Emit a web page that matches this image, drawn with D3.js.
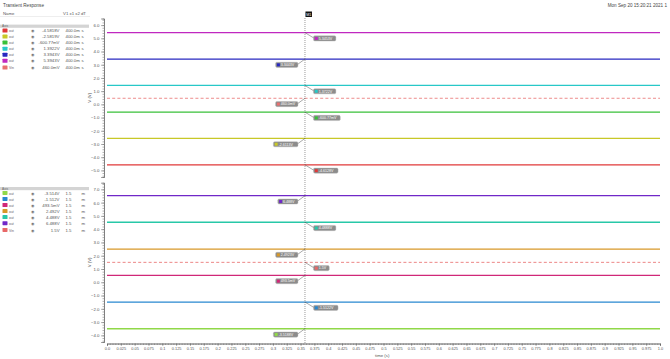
<!DOCTYPE html>
<html><head><meta charset="utf-8">
<script src="https://cdn.jsdelivr.net/npm/d3@7"></script>
<style>
body{margin:0;background:#fff;}
svg{display:block;font-family:"Liberation Sans",Arial,sans-serif;}
</style></head><body>
<svg id="c" width="670" height="359"></svg>
<script>
// ---------- data ----------
const xTicks = d3.range(0, 41).map(i => +(i * 0.025).toFixed(3));
const cursorTime = 0.358;

const topNames   = ["out","out","out","out","out","out","Vin"];
const topValues  = [-4.58, -2.58, -0.59, 1.43, 3.43, 5.43, 0.46];
const topColors  = ["#e03838","#c8c828","#38c038","#28c8c8","#2828c0","#c028c0","#e87070"];
const topDashed  = [false,false,false,false,false,false,true];
const topLegendVal = ["-4.5818V","-2.5819V","-600.77mV","1.3922V","3.3943V","5.3943V","460.0mV"];
const topLegendT   = ["400.0m","400.0m","400.0m","400.0m","400.0m","400.0m","400.0m"];
const topMarkText  = ["-4.6128V","-2.6113V","-600.77mV","1.3722V","3.3443V","5.3453V","460.0mV"];
const topMarkSide  = ["R","L","R","R","L","R","L"];
const topTicks = [-5,-4,-3,-2,-1,0,1,2,3,4,5,6];

const botNames   = ["out","out","out","out","out","out","Vin"];
const botValues  = [-3.5, -1.49, 0.52, 2.5, 4.52, 6.52, 1.5];
const botColors  = ["#90d848","#2888d0","#d02878","#d89828","#28c8a8","#7028c8","#e86868"];
const botDashed  = [false,false,false,false,false,false,true];
const botLegendVal = ["-3.514V","-1.512V","493.5mV","2.492V","4.488V","6.488V","1.5V"];
const botLegendT   = ["1.5","1.5","1.5","1.5","1.5","1.5","1.5"];
const botMarkText  = ["-3.5188V","-1.5122V","493.5mV","2.4923V","4.4888V","6.488V","1.5V"];
const botMarkSide  = ["L","R","L","L","R","L","R"];
const botTicks = [-4,-3,-2,-1,0,1,2,3,4,5,6,7];

// ---------- layout ----------
const svg = d3.select("#c");
const FS = 4.3;
const x = d3.scaleLinear().domain([0,1]).range([107,660]);
const yTop = d3.scaleLinear().domain([-5.5,6.5]).range([177,18.5]);
const yBot = d3.scaleLinear().domain([-4.5,7.5]).range([342,182.7]);
const axisX = 104;

// header texts
svg.append("text").attr("x",3).attr("y",7).attr("font-size",4.6).attr("fill","#444").text("Transient Response");
svg.append("text").attr("x",667).attr("y",7).attr("text-anchor","end").attr("font-size",4.6).attr("fill","#444").text("Mon Sep 20 15:20:21 2021  1");
svg.append("text").attr("x",3).attr("y",14.5).attr("font-size",FS).attr("fill","#555").text("Name");
svg.append("text").attr("x",86).attr("y",14.5).attr("text-anchor","end").attr("font-size",FS).attr("fill","#555").text("V1 x1 x2 dT");
svg.append("line").attr("x1",0).attr("x2",90).attr("y1",16.5).attr("y2",16.5).attr("stroke","#ddd").attr("stroke-width",0.5);

function legend(y0, names, colors, vals, ts, unit){
  svg.append("rect").attr("x",0).attr("y",y0).attr("width",89).attr("height",3.2).attr("fill","#d4d4d4");
  svg.append("text").attr("x",2).attr("y",y0+2.6).attr("font-size",3.2).attr("fill","#666").text("Axis");
  names.forEach((n,i)=>{
    const yy = y0 + 6.3 + i*6.05 + (i===names.length-1?0.7:0);
    const g = svg.append("g");
    g.append("rect").attr("x",2.5).attr("y",yy-2.4).attr("width",5).attr("height",4).attr("rx",0.6).attr("fill",colors[i]);
    g.append("text").attr("x",9).attr("y",yy+1.2).attr("font-size",3.4).attr("fill","#666").text(n);
    g.append("text").attr("x",31).attr("y",yy+1.2).attr("font-size",3.6).attr("fill","#777").text("\u25c9");
    g.append("text").attr("x",59.5).attr("y",yy+1.3).attr("text-anchor","end").attr("font-size",FS).attr("fill","#555").text(vals[i]);
    g.append("text").attr("x",65.5).attr("y",yy+1.3).attr("font-size",FS).attr("fill","#555").text(ts[i]);
    g.append("text").attr("x",81.5).attr("y",yy+1.3).attr("font-size",FS).attr("fill","#555").text(unit);
  });
}
legend(24.6, topNames, topColors, topLegendVal, topLegendT, "s");
legend(187, botNames, botColors, botLegendVal, botLegendT, "m");

// y axes
function yAxis(y, ticks, label){
  const minor = [];
  const d = y.domain();
  for(let v=Math.ceil(d[0]*5)/5; v<=d[1]+1e-9; v+=0.2) minor.push(+v.toFixed(2));
  const g = svg.append("g").attr("transform",`translate(${axisX},0)`);
  g.call(d3.axisLeft(y).tickValues(minor).tickSize(1.5).tickFormat(""));
  g.append("g").call(d3.axisLeft(y).tickValues(ticks).tickSize(3).tickPadding(1.5).tickFormat(d3.format(".1f")));
  g.selectAll("path.domain").attr("stroke","#666").attr("stroke-width",0.6);
  g.selectAll(".tick line").attr("stroke","#666").attr("stroke-width",0.5);
  g.selectAll(".tick text").attr("font-size",FS).attr("fill","#555").attr("font-family","Liberation Sans,Arial,sans-serif");
  const [r0,r1] = y.range();
  svg.append("text").attr("transform",`translate(91,${(r0+r1)/2}) rotate(-90)`)
    .attr("text-anchor","middle").attr("font-size",FS).attr("fill","#555").text(label);
}
yAxis(yTop, topTicks, "V (V)");
yAxis(yBot, botTicks, "V (V)");

// x axis
const minorX = d3.range(0,201).map(i=>+(i*0.005).toFixed(3));
const gx = svg.append("g").attr("transform","translate(0,343.5)");
gx.call(d3.axisBottom(x).tickValues(minorX).tickSize(1.5).tickFormat(""));
gx.append("g").call(d3.axisBottom(x).tickValues(xTicks).tickSize(2.5).tickPadding(1.2)
  .tickFormat(d => d===0?"0.0":d===1?"1.0":String(d)));
gx.selectAll("path.domain").attr("stroke","#666").attr("stroke-width",0.6);
gx.selectAll(".tick line").attr("stroke","#666").attr("stroke-width",0.5);
gx.selectAll(".tick text").attr("font-size",3.9).attr("fill","#555").attr("font-family","Liberation Sans,Arial,sans-serif");
svg.append("text").attr("x",375).attr("y",356.5).attr("font-size",FS).attr("fill","#555").text("time (s)");

// series
function series(y, vals, colors, dashed){
  vals.forEach((v,i)=>{
    svg.append("path")
      .attr("d", d3.line().x(d=>x(d[0])).y(d=>y(d[1]))([[0,v],[1,v]]))
      .attr("stroke",colors[i]).attr("stroke-width",dashed[i]?0.8:1.3)
      .attr("stroke-dasharray",dashed[i]?"3,2.2":null).attr("fill","none");
  });
}
series(yTop, topValues, topColors, topDashed);
series(yBot, botValues, botColors, botDashed);

// cursor
const cx = x(cursorTime);
svg.append("line").attr("x1",cx).attr("x2",cx).attr("y1",18).attr("y2",343.5)
  .attr("stroke","#555").attr("stroke-width",0.6).attr("stroke-dasharray","1,1");
svg.append("rect").attr("x",cx+0.5).attr("y",11.5).attr("width",6.5).attr("height",5.5).attr("fill","#111");
svg.append("text").attr("x",cx+3.75).attr("y",15.6).attr("text-anchor","middle").attr("font-size",3.6).attr("fill","#fff").text("M1");

// markers
function markers(y, vals, colors, texts, sides){
  vals.forEach((v,i)=>{
    const py = y(v);
    const w = 7 + texts[i].length*2.2;
    const h = 5.2;
    const by = py + 3.2;
    const bx = sides[i]==="R" ? cx + 8.5 : cx - 7 - w;
    const lx = sides[i]==="R" ? bx + 1 : bx + w - 1;
    svg.append("line").attr("x1",cx).attr("y1",py).attr("x2",lx).attr("y2",by+h/2)
      .attr("stroke","#555").attr("stroke-width",0.5);
    svg.append("rect").attr("x",bx).attr("y",by).attr("width",w).attr("height",h).attr("rx",1.4)
      .attr("fill","#8c8c8c").attr("stroke","#bbb").attr("stroke-width",0.4);
    svg.append("rect").attr("x",bx+1.3).attr("y",by+1.1).attr("width",3).attr("height",3).attr("fill",colors[i]);
    svg.append("text").attr("x",bx+5.3).attr("y",by+3.9).attr("font-size",3.6).attr("fill","#fff").text(texts[i]);
  });
}
markers(yTop, topValues, topColors, topMarkText, topMarkSide);
markers(yBot, botValues, botColors, botMarkText, botMarkSide);
</script>
</body></html>
